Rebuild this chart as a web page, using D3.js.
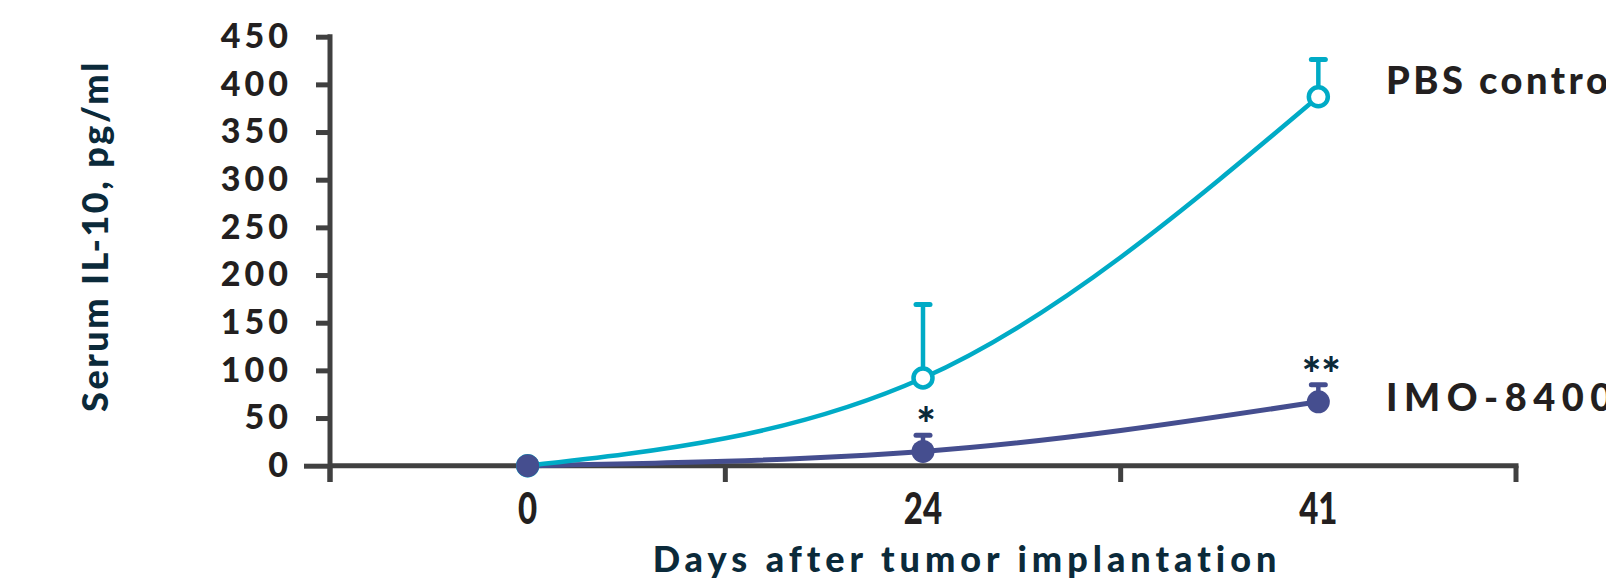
<!DOCTYPE html>
<html>
<head>
<meta charset="utf-8">
<script src="https://cdn.jsdelivr.net/npm/d3@7"></script>
<style>
  body { margin: 0; background: #fff; }
  svg { display: block; }
  .ytick text { font-family: Lato, sans-serif; font-weight: 900; font-size: 34px; letter-spacing: 4px; fill: #231f20; }
  .xtick text { font-family: Lato, sans-serif; font-weight: 900; font-size: 44px; fill: #231f20; }
  .title { font-family: Lato, sans-serif; font-weight: 900; font-size: 36px; fill: #0b2a3a; }
  .legend { font-family: Lato, sans-serif; font-weight: 900; font-size: 38px; fill: #231f20; }
  .star { font-family: Lato, sans-serif; font-weight: 900; font-size: 46px; fill: #0b2a3a; }
</style>
</head>
<body>
<div id="chart"></div>
<script>
// data
var days = ["0", "24", "41"];
var pbsMean = [0, 92, 387];
var pbsErr = [0, 77, 39];     // upper error above the mean
var imoMean = [0, 15, 67];
var imoErr = [0, 17, 18];
var imoStars = ["", "*", "**"];
var yTicks = [0, 50, 100, 150, 200, 250, 300, 350, 400, 450];

var W = 1606, H = 581;
var cyan = "#00abc6", purple = "#454e8f", axisCol = "#404040";

var svg = d3.select("#chart").append("svg")
    .attr("width", W)
    .attr("height", H);

// scales
var x = d3.scaleBand().domain(days).range([330, 1516]);
var y = d3.scaleLinear().domain([0, 450]).range([465.7, 36.7]);
var cx = function(d) { return x(d) + x.bandwidth() / 2; };

// y axis
var yAxis = d3.axisLeft(y).tickValues(yTicks).tickSize(14).tickSizeOuter(0).tickPadding(24);
var gy = svg.append("g").attr("class", "ytick").attr("transform", "translate(330,0)").call(yAxis);
gy.select(".domain").remove();
gy.selectAll(".tick line").attr("stroke", axisCol).attr("stroke-width", 5)
    .attr("x2", function(d) { return d === 0 ? -26 : -14; });
gy.append("line")
    .attr("x1", 0).attr("x2", 0)
    .attr("y1", y(450) - 2.5).attr("y2", 482)
    .attr("stroke", axisCol).attr("stroke-width", 5);

// x axis: line + ticks at band edges
var edges = days.map(function(d) { return x(d); }).concat([x.range()[1]]);
svg.append("line")
    .attr("x1", 330).attr("x2", x.range()[1] + 2.5)
    .attr("y1", y(0)).attr("y2", y(0))
    .attr("stroke", axisCol).attr("stroke-width", 5);
svg.selectAll(".xedge").data(edges).enter().append("line")
    .attr("class", "xedge")
    .attr("x1", function(d) { return d; }).attr("x2", function(d) { return d; })
    .attr("y1", y(0)).attr("y2", 482)
    .attr("stroke", axisCol).attr("stroke-width", 5);

var gx = svg.append("g").attr("class", "xtick").attr("transform", "translate(0," + y(0) + ")")
    .call(d3.axisBottom(x).tickSize(0).tickPadding(27));
gx.select(".domain").remove();
// condensed look for the day labels
gx.selectAll(".tick text").attr("dy", "0.71em").attr("transform", "scale(0.75,1)");

// axis titles
svg.append("text").attr("class", "title")
    .attr("transform", "translate(108,236) rotate(-90)")
    .attr("text-anchor", "middle")
    .style("letter-spacing", "2.5px")
    .text("Serum IL-10, pg/ml");

svg.append("text").attr("class", "title")
    .attr("x", 967).attr("y", 572)
    .attr("text-anchor", "middle")
    .style("letter-spacing", "5px")
    .text("Days after tumor implantation");

// lines
var line = d3.line()
    .x(function(d, i) { return cx(days[i]); })
    .y(function(d) { return y(d); })
    .curve(d3.curveMonotoneX);

svg.append("path").datum(imoMean)
    .attr("d", line).attr("fill", "none").attr("stroke", purple).attr("stroke-width", 5);
svg.append("path").datum(pbsMean)
    .attr("d", line).attr("fill", "none").attr("stroke", cyan).attr("stroke-width", 4.5);

// error bars (upper only)
function errBars(mean, err, col, cls) {
    var g = svg.append("g").attr("class", cls);
    var data = mean.map(function(m, i) { return {day: days[i], m: m, e: err[i]}; })
        .filter(function(d) { return d.e > 0; });
    g.selectAll(".bar").data(data).enter().append("line")
        .attr("x1", function(d) { return cx(d.day); }).attr("x2", function(d) { return cx(d.day); })
        .attr("y1", function(d) { return y(d.m); }).attr("y2", function(d) { return y(d.m + d.e); })
        .attr("stroke", col).attr("stroke-width", 4.5);
    g.selectAll(".cap").data(data).enter().append("line")
        .attr("x1", function(d) { return cx(d.day) - 7; }).attr("x2", function(d) { return cx(d.day) + 7; })
        .attr("y1", function(d) { return y(d.m + d.e); }).attr("y2", function(d) { return y(d.m + d.e); })
        .attr("stroke", col).attr("stroke-width", 5).attr("stroke-linecap", "round");
}
errBars(pbsMean, pbsErr, cyan, "pbsErr");
errBars(imoMean, imoErr, purple, "imoErr");

// markers
svg.selectAll(".pbsDot").data(pbsMean).enter().append("circle")
    .attr("class", "pbsDot")
    .attr("cx", function(d, i) { return cx(days[i]); })
    .attr("cy", function(d) { return y(d); })
    .attr("r", 9.5)
    .attr("fill", "#fff").attr("stroke", cyan).attr("stroke-width", 4.5);

svg.selectAll(".imoDot").data(imoMean).enter().append("circle")
    .attr("class", "imoDot")
    .attr("cx", function(d, i) { return cx(days[i]); })
    .attr("cy", function(d) { return y(d); })
    .attr("r", 11.5)
    .attr("fill", purple);

// significance stars
svg.selectAll(".star").data(imoStars).enter().append("text")
    .attr("class", "star")
    .attr("x", function(d, i) { return cx(days[i]) + 3; })
    .attr("y", function(d, i) { return y(imoMean[i] + imoErr[i]) + 6; })
    .attr("text-anchor", "middle")
    .text(function(d) { return d; });

// series labels (run off the right edge as in the original)
svg.append("text").attr("class", "legend")
    .attr("x", 1386).attr("y", 94)
    .style("letter-spacing", "3.5px")
    .text("PBS control");
svg.append("text").attr("class", "legend")
    .attr("x", 1386).attr("y", 411)
    .style("letter-spacing", "6.5px")
    .text("IMO-8400");
</script>
</body>
</html>
